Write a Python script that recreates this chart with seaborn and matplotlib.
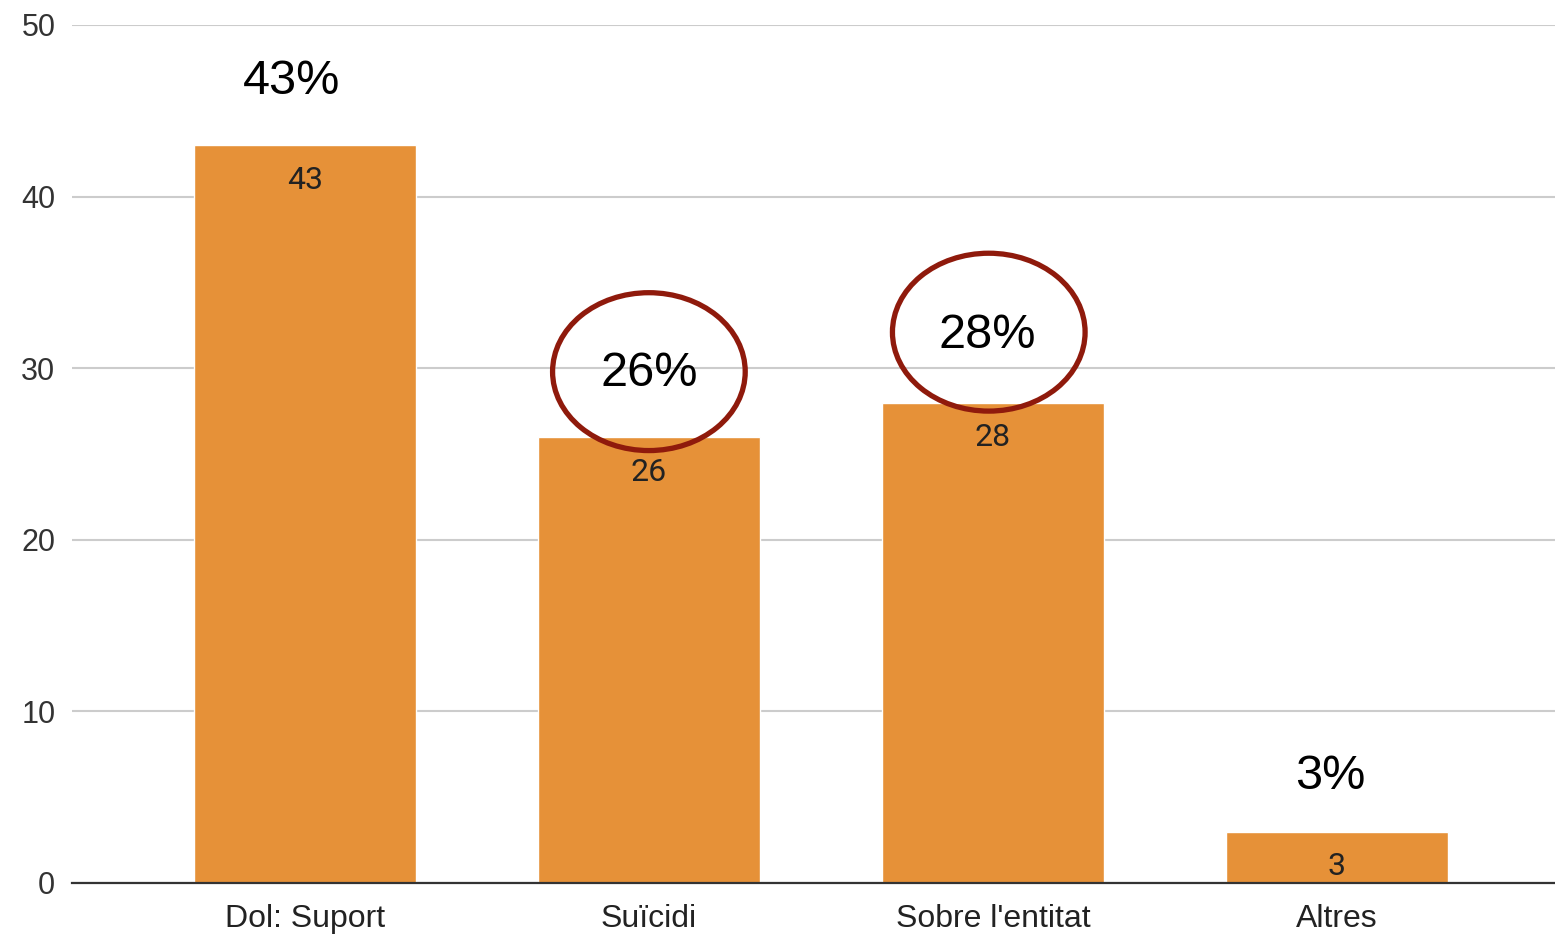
import matplotlib
matplotlib.use("Agg")
import matplotlib.pyplot as plt
import seaborn as sns
import pandas as pd
from matplotlib.patches import Ellipse

categories = ["Dol: Suport", "Suïcidi", "Sobre l'entitat", "Altres"]
values = [43, 26, 28, 3]
percent_labels = ["43%", "26%", "28%", "3%"]
percent_y = [46.7, 29.7, 31.9, 6.2]
circled = [1, 2]
circle_y = [29.8, 32.1]
yticks = [0, 10, 20, 30, 40, 50]

sns.set_theme(style="white")
plt.rcParams['font.family'] = ['Liberation Sans', 'DejaVu Sans']

fig = plt.figure(figsize=(15.55, 9.36), dpi=100)
ax = fig.add_axes([72/1555, 53/936, 1 - 72/1555, 858/936])

df = pd.DataFrame({"cat": categories, "val": values})
sns.barplot(data=df, x="cat", y="val", color="#E69138", saturation=1,
            width=0.645, ax=ax, zorder=3)

ax.set_xlim(-0.677, 3.634)
ax.set_ylim(0, 50)
ax.set_yticks(yticks)
ax.set_yticklabels([str(t) for t in yticks])
ax.set_xlabel("")
ax.set_ylabel("")
for s in ["left", "right", "top"]:
    ax.spines[s].set_visible(False)
ax.spines["bottom"].set_color("#333333")
ax.spines["bottom"].set_linewidth(1.6)
ax.spines["bottom"].set_zorder(5)
ax.yaxis.grid(True, color="#cccccc", linewidth=1.5, zorder=0)
ax.set_axisbelow(True)
ax.tick_params(axis="y", length=0, pad=12, labelsize=22, labelcolor="#333333")
ax.tick_params(axis="x", length=0, pad=15, labelsize=23, labelcolor="#222222")

for i, v in enumerate(values):
    ax.annotate(str(v), xy=(i, v), xytext=(0, -25.5), textcoords="offset points",
                ha="center", va="center", fontsize=23, color="#222222",
                family=["Roboto", "DejaVu Sans"], zorder=6)

pct_xoff = [-0.04, 0.0, -0.015, -0.02]
for i, (lab, y) in enumerate(zip(percent_labels, percent_y)):
    ax.text(i + pct_xoff[i], y, lab, ha="center", va="center", fontsize=35,
            color="black", zorder=7)

circle_xoff = [0.0, -0.012]
for k, (i, cy) in enumerate(zip(circled, circle_y)):
    e = Ellipse((i + circle_xoff[k], cy), width=0.56, height=9.2,
                fill=False, edgecolor="#8f1a0c", linewidth=3.8, zorder=8)
    ax.add_patch(e)

fig.savefig("out.png", dpi=100)
